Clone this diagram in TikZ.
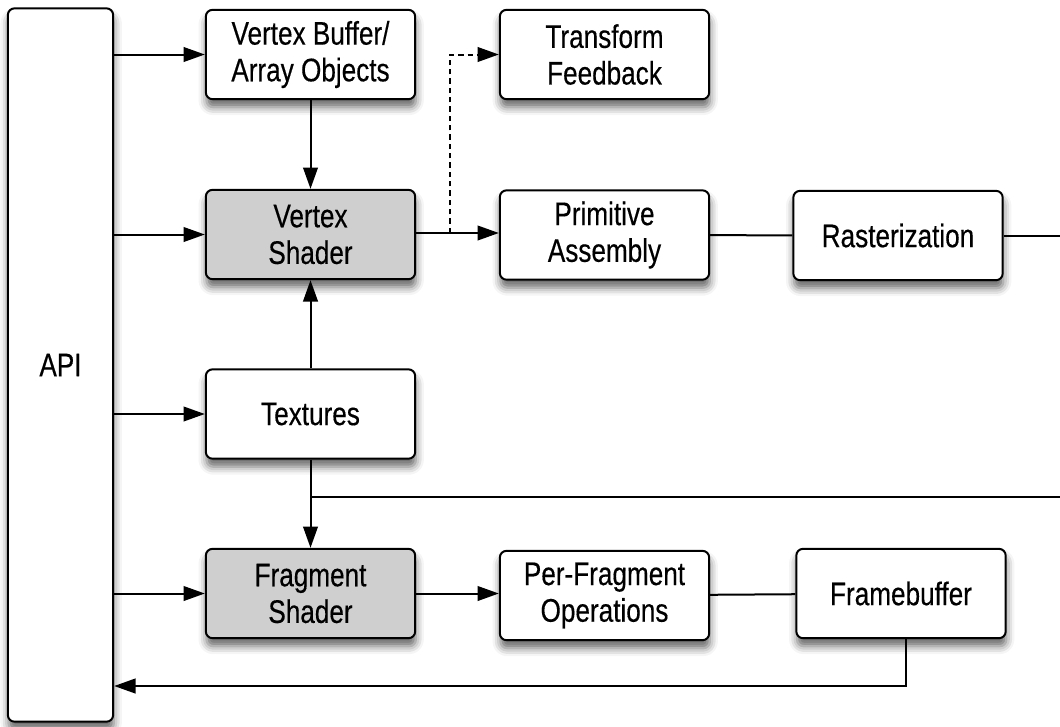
\documentclass[tikz,border=0pt]{standalone}
\usepackage{fontspec}
\setmainfont[FakeStretch=0.8]{Liberation Sans}
\newfontfamily\labelfont[FakeStretch=0.8,FakeBold=0.35]{Liberation Sans}
\usetikzlibrary{arrows.meta,shadows.blur}
\definecolor{shadegray}{RGB}{207,207,207}
\begin{document}
\begin{tikzpicture}[x=0.75pt,y=-0.75pt,
  box/.style={draw=black, line width=1.5pt, rounded corners=5pt, fill=white,
    minimum width=157pt, minimum height=67pt, inner sep=0pt, align=center,
    font=\labelfont\fontsize{24.5}{27.5}\selectfont,
    blur shadow={shadow xshift=0.5pt, shadow yshift=-6pt, shadow blur radius=6pt, shadow opacity=60}},
  shader/.style={box, fill=shadegray},
  link/.style={line width=1.5pt},
  tip/.style={-{Triangle[length=16pt,width=11pt]}},
  arr/.style={link, tip},
]
\useasboundingbox (0,0) rectangle (1060,726);

% stages of the pipeline
\node[box, minimum width=79pt, minimum height=535pt] (api) at (60.5,365) {API};
\node[box]    (vbo) at (310.5,54.5) {Vertex Buffer/\\Array Objects};
\node[box]    (tf)  at (604.5,54.5) {Transform\\Feedback};
\node[shader] (vs)  at (310.5,234.5) {Vertex\\Shader};
\node[box]    (pa)  at (604.5,235) {Primitive\\Assembly};
\node[box]    (ras) at (898,235.5) {Rasterization};
\node[box]    (tex) at (310.5,414) {Textures};
\node[shader] (fs)  at (310.5,593.5) {Fragment\\Shader};
\node[box]    (pfo) at (604.5,595.5) {Per-Fragment\\Operations};
\node[box]    (fb)  at (901,593.5) {Framebuffer};

% helper points
\coordinate (split) at (450,233);
\coordinate (texsplit) at (310.5,497);
\coordinate (rasout) at (1060,235.5);
\coordinate (texout) at (1060,497);
\coordinate (fbturn) at (906,686);

% API feeds
\draw[arr] (api.east |- vbo) -- (vbo.west);
\draw[arr] (api.east |- vs) -- (vs.west);
\draw[arr] (api.east |- tex) -- (tex.west);
\draw[arr] (api.east |- fs) -- (fs.west);

% vertex path
\draw[arr] (vbo) -- (vs);
\draw[arr] (tex) -- (vs);
\draw[arr] (vs.east |- split) -- (pa.west |- split);
\draw[link, tip, dash pattern=on 4pt off 3pt] (split) |- (tf.west);
\draw[link] (pa) -- (ras);
\draw[link] (ras) -- (rasout);

% fragment path
\draw[arr] (tex) -- (fs);
\draw[link] (texsplit) -- (texout);
\draw[arr] (fs.east) -- (pfo.west |- fs.east);
\draw[link] (pfo) -- (fb);
\draw[arr] (fb.south -| fbturn) -- (fbturn) -- (api.east |- fbturn);
\end{tikzpicture}
\end{document}
